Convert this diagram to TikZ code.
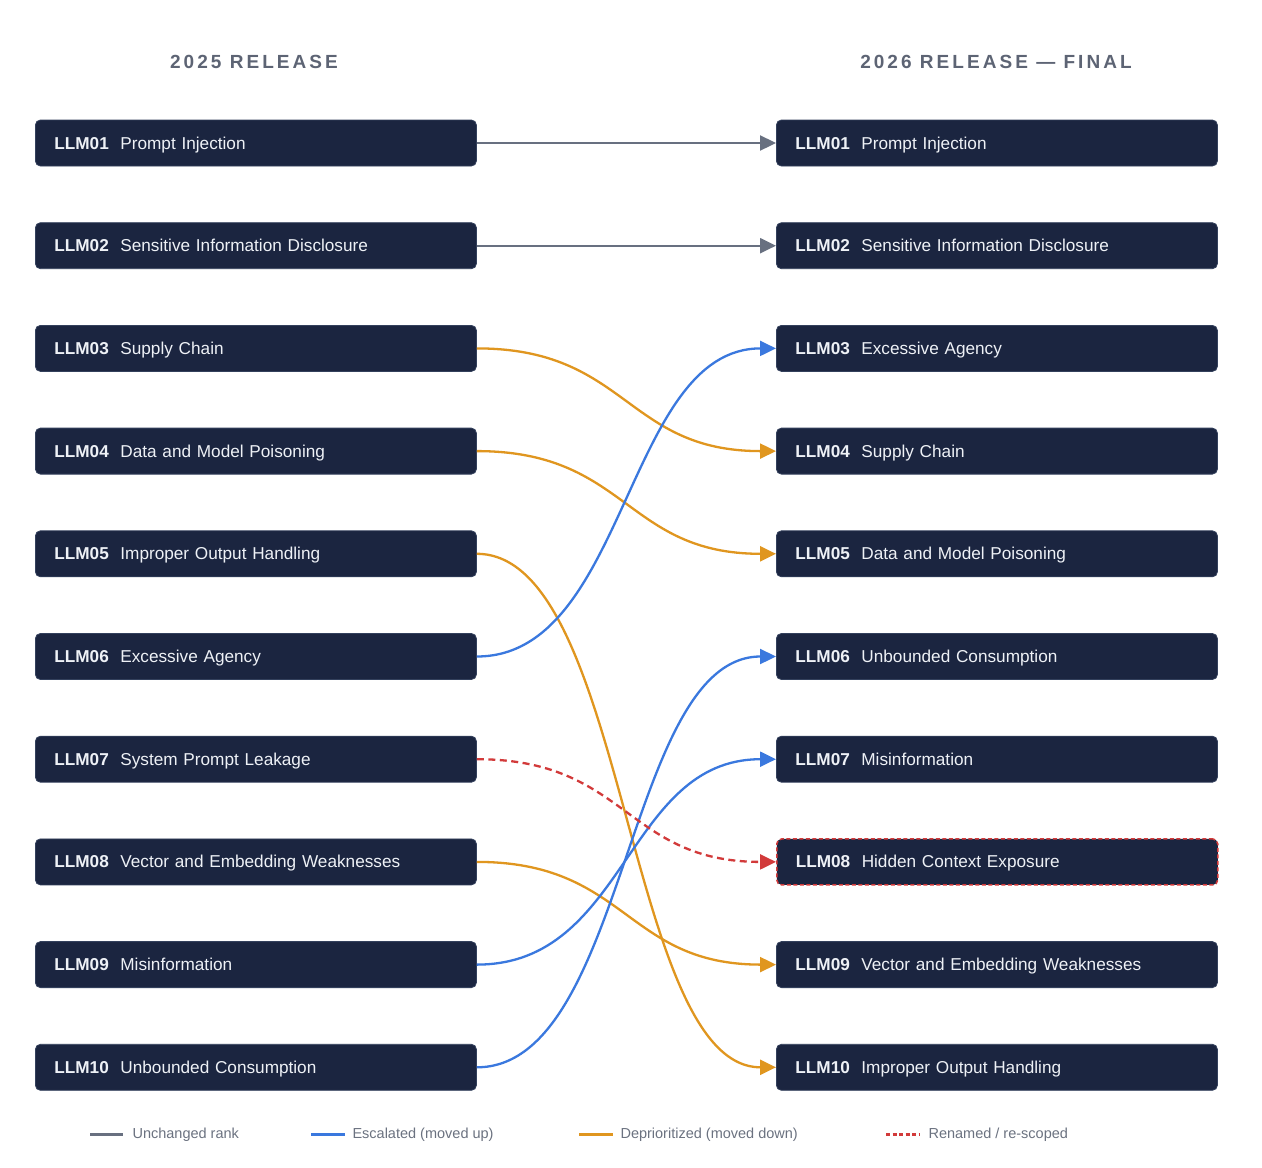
\documentclass[tikz,border=0pt]{standalone}
\usepackage{fontspec}
\setmainfont{Liberation Sans}
\usetikzlibrary{arrows.meta}
\definecolor{navy}{HTML}{1B2540}
\definecolor{navyedge}{HTML}{33405C}
\definecolor{boxtext}{HTML}{EEF1F6}
\definecolor{gline}{HTML}{687080}
\definecolor{bline}{HTML}{3A78DE}
\definecolor{oline}{HTML}{E0961F}
\definecolor{rline}{HTML}{D23A3A}
\definecolor{headc}{HTML}{5D6474}
\definecolor{legc}{HTML}{6B7280}
\newcommand{\itm}[2]{\makebox[66pt][l]{\bfseries #1}#2}
\begin{document}
\begin{tikzpicture}[x=1pt,y=-1pt,
  rbox/.style={draw=navyedge,line width=0.8pt,fill=navy,rounded corners=5pt,
    minimum width=441pt,minimum height=46pt,text width=403pt,inner xsep=19pt,
    text height=14pt,text depth=2pt,
    align=left,text=boxtext,font=\fontsize{17.2}{20}\selectfont,anchor=west},
  head/.style={text=headc,font=\fontsize{19}{22}\selectfont\bfseries\addfontfeatures{LetterSpace=16}},
  leg/.style={text=legc,font=\fontsize{14.5}{17}\selectfont,anchor=west},
  tip/.style={-{Triangle[length=16pt,width=15pt]}},
  conn/.style={line width=2.3pt,tip},
]
\useasboundingbox (0,0) rectangle (1262,1168);
\fill[white] (0,0) rectangle (1262,1168);

\node[head] (hl) at (254,62) {2025 RELEASE};
\node[head] (hr) at (996,62) {2026 RELEASE — FINAL};

\def\yy#1{143+(#1-1)*102.7}
% left column
\node[rbox] (L1) at (35,{\yy{1}}) {\itm{LLM01}{Prompt Injection}};
\node[rbox] (L2) at (35,{\yy{2}}) {\itm{LLM02}{Sensitive Information Disclosure}};
\node[rbox] (L3) at (35,{\yy{3}}) {\itm{LLM03}{Supply Chain}};
\node[rbox] (L4) at (35,{\yy{4}}) {\itm{LLM04}{Data and Model Poisoning}};
\node[rbox] (L5) at (35,{\yy{5}}) {\itm{LLM05}{Improper Output Handling}};
\node[rbox] (L6) at (35,{\yy{6}}) {\itm{LLM06}{Excessive Agency}};
\node[rbox] (L7) at (35,{\yy{7}}) {\itm{LLM07}{System Prompt Leakage}};
\node[rbox] (L8) at (35,{\yy{8}}) {\itm{LLM08}{Vector and Embedding Weaknesses}};
\node[rbox] (L9) at (35,{\yy{9}}) {\itm{LLM09}{Misinformation}};
\node[rbox] (L10) at (35,{\yy{10}}) {\itm{LLM10}{Unbounded Consumption}};
% right column
\node[rbox] (R1) at (776,{\yy{1}}) {\itm{LLM01}{Prompt Injection}};
\node[rbox] (R2) at (776,{\yy{2}}) {\itm{LLM02}{Sensitive Information Disclosure}};
\node[rbox] (R3) at (776,{\yy{3}}) {\itm{LLM03}{Excessive Agency}};
\node[rbox] (R4) at (776,{\yy{4}}) {\itm{LLM04}{Supply Chain}};
\node[rbox] (R5) at (776,{\yy{5}}) {\itm{LLM05}{Data and Model Poisoning}};
\node[rbox] (R6) at (776,{\yy{6}}) {\itm{LLM06}{Unbounded Consumption}};
\node[rbox] (R7) at (776,{\yy{7}}) {\itm{LLM07}{Misinformation}};
\node[rbox,draw=rline,line width=1.5pt,dash pattern=on 4pt off 2.5pt] (R8) at (776,{\yy{8}}) {\itm{LLM08}{Hidden Context Exposure}};
\node[rbox] (R9) at (776,{\yy{9}}) {\itm{LLM09}{Vector and Embedding Weaknesses}};
\node[rbox] (R10) at (776,{\yy{10}}) {\itm{LLM10}{Improper Output Handling}};

% connectors
\draw[conn,gline] (L1.east) -- (R1.west);
\draw[conn,gline] (L2.east) -- (R2.west);
\draw[conn,oline] (L3.east) .. controls +(150.5,0) and +(-150.5,0) .. (R4.west);
\draw[conn,oline] (L4.east) .. controls +(150.5,0) and +(-150.5,0) .. (R5.west);
\draw[conn,oline] (L5.east) .. controls +(150.5,0) and +(-150.5,0) .. (R10.west);
\draw[conn,oline] (L8.east) .. controls +(150.5,0) and +(-150.5,0) .. (R9.west);
\draw[conn,bline] (L6.east) .. controls +(150.5,0) and +(-150.5,0) .. (R3.west);
\draw[conn,bline] (L9.east) .. controls +(150.5,0) and +(-150.5,0) .. (R7.west);
\draw[conn,bline] (L10.east) .. controls +(150.5,0) and +(-150.5,0) .. (R6.west);
\draw[conn,rline,dash pattern=on 7pt off 4.5pt] (L7.east) .. controls +(150.5,0) and +(-150.5,0) .. (R8.west);

% legend
\coordinate (g1a) at (90,1134.5); \coordinate (g1b) at (123,1134.5);
\coordinate (g2a) at (311,1134.5); \coordinate (g2b) at (345,1134.5);
\coordinate (g3a) at (579,1134.5); \coordinate (g3b) at (613,1134.5);
\coordinate (g4a) at (886,1134.5); \coordinate (g4b) at (920,1134.5);
\draw[gline,line width=2.8pt] (g1a) -- (g1b);
\draw[bline,line width=2.8pt] (g2a) -- (g2b);
\draw[oline,line width=2.8pt] (g3a) -- (g3b);
\draw[rline,line width=2.8pt,dash pattern=on 4pt off 2.5pt] (g4a) -- (g4b);
\node[leg] (t1) at (129,1135) {Unchanged rank};
\node[leg] (t2) at (349,1135) {Escalated (moved up)};
\node[leg] (t3) at (617,1135) {Deprioritized (moved down)};
\node[leg] (t4) at (925,1135) {Renamed / re-scoped};
\end{tikzpicture}
\end{document}
